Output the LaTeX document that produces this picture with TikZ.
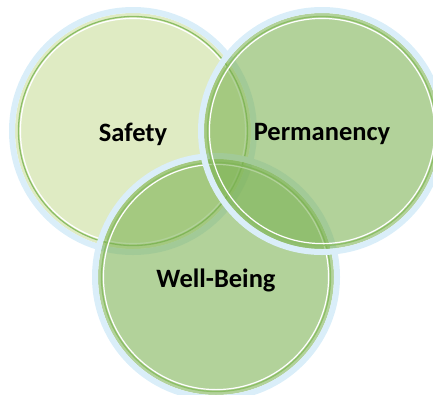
\documentclass[tikz,border=0pt]{standalone}
\usepackage{fontspec}
\setmainfont{Carlito}
\definecolor{RingBlue}{HTML}{DAEEF9}
\definecolor{SafeGreen}{HTML}{C8DC98}
\definecolor{VennGreen}{HTML}{7AB151}
\definecolor{LineGreen}{HTML}{8CBE66}
\usetikzlibrary{positioning}

\begin{document}
\begin{tikzpicture}[x=1pt, y=-1pt,
  rim/.style={draw=RingBlue, line width=6pt},
  disc/.style={fill opacity=0.58},
  edge/.style={draw=LineGreen, line width=1.3pt},
  gap/.style={draw=white, line width=1.2pt},
  lbl/.style={font=\bfseries\fontsize{26.5}{30}\selectfont, text=black,
              yshift=-3pt}]
  \useasboundingbox (0,0) rectangle (433,394);
  \clip (0,0) rectangle (433,394);
  % three circles, bottom one first
  \foreach \n/\cx/\cy/\col in {safety/133/131/SafeGreen,
      wellbeing/216/277/VennGreen, permanency/322/131/VennGreen} {
    \coordinate (\n) at (\cx,\cy);
    \fill[\col, disc] (\n) circle (118);
    \draw[rim] (\n) circle (121);
    \draw[edge] (\n) circle (114.5);
    \draw[gap] (\n) circle (112.6);
  }
  \node[lbl] (safetytxt) at (safety) {Safety};
  \node[lbl] (permtxt) at (permanency) {Permanency};
  \node[lbl] (welltxt) at (wellbeing) {Well-Being};
\end{tikzpicture}
\end{document}
